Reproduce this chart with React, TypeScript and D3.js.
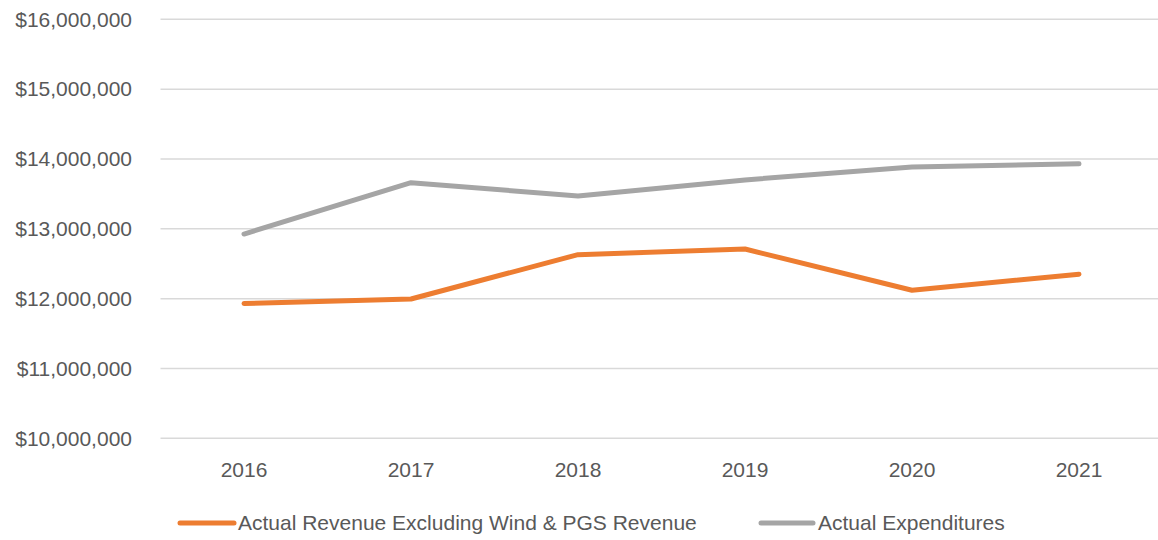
import React from "react";
import * as d3 from "d3";

const years = ["2016", "2017", "2018", "2019", "2020", "2021"];
const revenue = [11930000, 11995000, 12630000, 12710000, 12120000, 12350000];
const expenditures = [12925000, 13660000, 13470000, 13700000, 13885000, 13930000];
const yTicks = [10000000, 11000000, 12000000, 13000000, 14000000, 15000000, 16000000];
const seriesNames = ["Actual Revenue Excluding Wind & PGS Revenue", "Actual Expenditures"];
const colors = ["#ED7D31", "#A5A5A5"];

export default function App() {
  const W = 1158, H = 540;
  const left = 160.5, right = 1162.5, top = 19.3, bottom = 438.3;
  const x = d3.scaleBand<string>().domain(years).range([left, right]);
  const y = d3.scaleLinear().domain([10000000, 16000000]).range([bottom, top]);
  const cx = (yr: string) => (x(yr) as number) + x.bandwidth() / 2;
  const line = d3
    .line<number>()
    .x((_, i) => cx(years[i]))
    .y((d) => y(d));
  const fmt = (v: number) => "$" + d3.format(",")(v);
  const font = "'Liberation Sans', Arial, sans-serif";
  const textColor = "#595959";
  const series = [revenue, expenditures];
  const legendItems = [
    { x0: 180, x1: 234, tx: 238 },
    { x0: 761, x1: 813, tx: 818 },
  ];
  return (
    <svg
      width={W}
      height={H}
      style={{ position: "absolute", left: 0, top: 0, background: "#fff" }}
      fontFamily={font}
    >
      {yTicks.map((t) => (
        <g key={t}>
          <line x1={left} x2={right} y1={y(t)} y2={y(t)} stroke="#D9D9D9" strokeWidth={1.5} />
          <text x={132} y={y(t)} dy="0.35em" textAnchor="end" fontSize={21} fill={textColor}>
            {fmt(t)}
          </text>
        </g>
      ))}
      {years.map((yr) => (
        <text key={yr} x={cx(yr)} y={470} dy="0.35em" textAnchor="middle" fontSize={21} fill={textColor}>
          {yr}
        </text>
      ))}
      {series.map((s, i) => (
        <path
          key={i}
          d={line(s) || ""}
          fill="none"
          stroke={colors[i]}
          strokeWidth={5}
          strokeLinecap="round"
          strokeLinejoin="round"
        />
      ))}
      {legendItems.map((l, i) => (
        <g key={i}>
          <line x1={l.x0} x2={l.x1} y1={523} y2={523} stroke={colors[i]} strokeWidth={5} strokeLinecap="round" />
          <text x={l.tx} y={523} dy="0.35em" fontSize={21} fill={textColor}>
            {seriesNames[i]}
          </text>
        </g>
      ))}
    </svg>
  );
}
